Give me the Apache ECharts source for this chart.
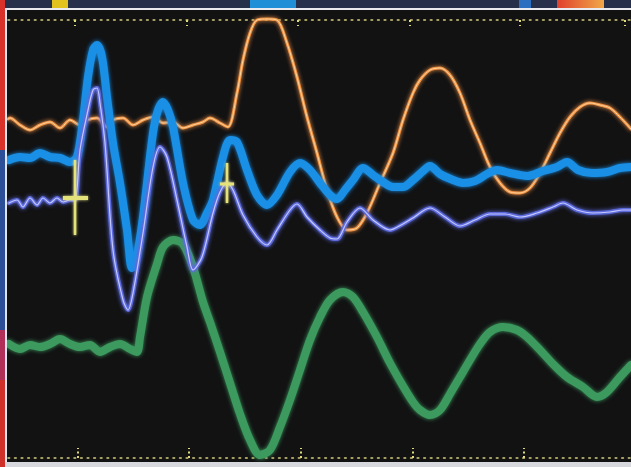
<!DOCTYPE html>
<html>
<head>
<meta charset="utf-8">
<script src="https://cdn.jsdelivr.net/npm/echarts@6/dist/echarts.min.js"></script>
<style>
html,body{margin:0;padding:0;background:#111214;}
#chart{width:631px;height:467px;}
</style>
</head>
<body>
<div id="chart"></div>
<script>
// time (x, arbitrary units) and amplitude (y, arbitrary units)
const orangeTrace = [
  [0.8,33.9],[1.0,34.0],[2.0,33.3],[3.0,32.8],[4.0,33.3],[5.0,33.6],[6.0,33.0],[7.0,33.8],[8.0,33.3],[8.7,33.8],
  [9.7,34.0],[10.7,33.1],[11.3,33.8],[12.3,34.0],[13.3,33.3],[14.3,33.8],[15.3,34.1],[16.3,33.5],[17.3,33.6],
  [18.3,33.0],[19.3,33.3],[20.3,33.6],[21.0,34.0],[22.0,33.5],[22.8,33.1],[23.7,36.5],[24.3,39.8],[25.0,42.5],
  [25.7,43.8],[26.7,43.9],[27.7,43.8],[28.7,41.5],[29.7,38.1],[30.7,34.1],[31.7,30.5],[32.7,26.8],[33.7,24.1],
  [34.7,22.8],[35.7,23.0],[36.7,24.5],[38.0,27.5],[39.3,30.5],[40.3,33.8],[41.3,36.5],[42.0,37.8],[43.0,38.8],
  [44.0,39.0],[45.0,38.3],[46.0,36.5],[47.0,33.8],[48.0,31.5],[49.0,29.1],[50.0,27.5],[51.0,26.6],[52.0,26.5],
  [53.0,27.0],[54.0,28.5],[55.0,30.5],[56.0,32.5],[57.0,34.1],[58.0,35.1],[59.0,35.5],[60.0,35.3],[61.0,35.0],
  [62.0,34.1],[63.1,32.9]
];
const blueTrace = [
  [0.9,29.8],[2.0,30.1],[3.0,30.0],[4.0,30.5],[5.0,30.1],[6.0,30.0],[7.0,29.6],[7.7,30.1],[8.3,33.8],[8.8,38.1],
  [9.3,40.8],[9.7,41.3],[10.2,40.1],[10.7,36.1],[11.3,31.5],[12.0,27.5],[12.7,22.8],[13.2,19.0],[13.7,20.3],
  [14.3,24.1],[15.3,32.5],[15.8,34.8],[16.3,35.6],[16.8,34.8],[17.3,33.1],[18.3,27.5],[19.3,23.8],[20.0,23.3],
  [20.7,24.5],[21.3,25.8],[22.3,30.1],[23.0,31.8],[23.7,31.6],[24.7,28.8],[25.7,26.3],[26.7,25.3],[27.7,26.3],
  [29.0,28.6],[30.0,29.5],[31.0,28.8],[32.0,27.5],[33.0,26.3],[33.7,25.9],[34.5,26.8],[35.3,27.8],[36.3,29.0],
  [37.3,28.3],[38.3,27.6],[39.3,27.1],[40.3,27.1],[41.3,27.8],[42.2,28.6],[43.0,29.2],[44.0,28.4],[45.3,27.8],
  [46.3,27.5],[47.5,27.7],[48.7,28.4],[49.7,28.8],[51.0,28.5],[52.7,28.2],[54.3,28.7],[55.7,29.1],[56.7,29.6],
  [57.8,28.8],[59.2,28.5],[60.7,28.6],[62.0,29.0],[63.1,29.1]
];
const violetTrace = [
  [0.9,25.5],[1.7,25.8],[2.3,25.1],[3.0,26.0],[3.7,25.3],[4.3,26.0],[5.0,25.5],[5.7,26.0],[6.3,25.6],[7.0,25.8],
  [7.5,25.8],[8.0,30.8],[8.8,34.8],[9.3,36.8],[9.7,37.0],[10.0,35.5],[10.5,31.5],[11.3,20.8],[12.3,15.8],
  [12.8,14.8],[13.3,16.5],[14.3,22.5],[15.3,29.1],[16.0,31.1],[16.7,30.1],[17.7,25.8],[18.7,21.1],[19.3,18.8],
  [20.2,20.1],[21.3,24.5],[22.0,26.6],[22.7,27.5],[23.3,26.8],[24.3,24.3],[25.7,22.1],[26.7,21.3],[27.7,22.8],
  [29.0,24.8],[29.7,25.4],[30.7,24.1],[32.0,22.8],[33.0,22.0],[33.7,21.9],[34.7,23.6],[36.0,25.0],[37.3,23.8],
  [39.0,22.8],[40.3,23.4],[41.3,24.0],[43.0,25.0],[44.5,24.1],[46.0,23.2],[47.5,23.8],[49.0,24.4],[50.5,24.4],
  [52.0,24.1],[53.7,24.5],[55.3,25.1],[56.3,25.5],[57.7,24.8],[59.3,24.5],[61.0,24.6],[62.3,24.8],[63.1,24.8]
];
const greenTrace = [
  [0.9,11.4],[2.0,10.9],[3.0,11.3],[4.0,11.1],[5.0,11.4],[6.0,11.9],[7.0,11.4],[8.0,11.1],[9.0,11.3],[10.0,10.6],
  [11.0,11.1],[12.0,11.4],[13.0,10.9],[13.7,10.6],[14.0,12.1],[14.7,16.1],[15.7,19.4],[16.3,21.1],[17.3,21.8],
  [18.3,21.4],[19.3,19.1],[20.3,15.6],[21.0,13.6],[22.0,10.6],[23.0,7.5],[24.0,4.4],[25.0,1.8],[26.0,0.3],
  [27.0,0.8],[28.0,3.1],[29.0,5.8],[30.0,8.8],[31.0,11.8],[32.0,14.1],[33.0,15.8],[34.3,16.6],[35.3,16.1],
  [36.3,14.6],[37.7,12.1],[39.0,9.5],[40.3,7.2],[41.3,5.6],[42.0,4.8],[43.0,4.3],[44.0,4.8],[45.0,6.4],[46.0,8.1],
  [47.0,9.8],[48.0,11.4],[49.0,12.6],[50.3,13.1],[51.7,12.8],[52.7,12.1],[54.0,10.8],[55.3,9.4],[56.7,8.1],
  [58.3,7.1],[59.7,6.1],[60.7,6.6],[62.0,8.1],[63.1,9.3]
];
// cursor crosses (segments)
const cursor1H = [[6.3,26.0],[8.8,26.0]];
const cursor1V = [[7.5,29.8],[7.5,22.3]];
const cursor2H = [[22.0,27.4],[23.4,27.4]];
const cursor2V = [[22.7,29.5],[22.7,25.5]];
const topTicks = [7.5,18.7,29.8,41.0,52.0,62.5];
const bottomTicks = [7.8,18.9,30.1,41.3,52.4];
const xMin = 0.8, xMax = 63.1, yMin = 0, yMax = 43.8;

const chart = echarts.init(document.getElementById('chart'), null, {renderer:'canvas'});
function trace(data, color, width, glow, z){
  return {type:'line', data:data, smooth:0.3, symbol:'none', clip:false, z:z,
    lineStyle:{color:color, width:width, shadowBlur:glow, shadowColor:color, cap:'round', join:'round'}};
}
function seg(data, width){
  return {type:'line', data:data, symbol:'none', clip:false, z:20,
    lineStyle:{color:'#e4e27a', width:width, shadowBlur:3, shadowColor:'#e4e27a'}};
}
const dotStyle = {color:'#d6cf7c', width:1.6, type:[1.6,5]};
chart.setOption({
  animation:false,
  backgroundColor:'#121213',
  grid:{left:8, right:0, top:20, bottom:9, containLabel:false},
  xAxis:[
    {type:'value', min:xMin, max:xMax, position:'bottom',
     axisLine:{show:true, onZero:false, lineStyle:dotStyle},
     axisTick:{show:true, inside:true, length:10, customValues:bottomTicks, lineStyle:{color:'#e2d978', width:2, type:[2,2.5]}},
     axisLabel:{show:false}, splitLine:{show:false}},
    {type:'value', min:xMin, max:xMax, position:'top',
     axisLine:{show:true, onZero:false, lineStyle:dotStyle},
     axisTick:{show:true, inside:true, length:6, customValues:topTicks, lineStyle:{color:'#e2d978', width:2, type:[2,3]}},
     axisLabel:{show:false}, splitLine:{show:false}}
  ],
  yAxis:{type:'value', min:yMin, max:yMax, show:false},
  series:[
    trace(greenTrace, '#3d9a5e', 8, 4, 2),
    trace(orangeTrace, '#ef9246', 3, 4, 3),
    trace(orangeTrace, '#ffd49a', 1, 0, 4),
    trace(blueTrace, '#1a8fe6', 8, 4, 5),
    trace(violetTrace, '#5d6bdc', 4, 4, 6),
    trace(violetTrace, '#c4c8ff', 1.2, 0, 7),
    seg(cursor1H, 4), seg(cursor1V, 2.5), seg(cursor2H, 3), seg(cursor2V, 2.5)
  ],
  graphic:[
    {type:'rect', shape:{x:0,y:0,width:631,height:8}, style:{fill:'#26304a'}, z:100},
    {type:'rect', shape:{x:52,y:0,width:16,height:8}, style:{fill:'#e2c21c'}, z:101},
    {type:'rect', shape:{x:250,y:0,width:46,height:8}, style:{fill:'#1f8fd8'}, z:101},
    {type:'rect', shape:{x:519,y:0,width:12,height:8}, style:{fill:'#2a6fc0'}, z:101},
    {type:'rect', shape:{x:557,y:0,width:47,height:8}, style:{fill:new echarts.graphic.LinearGradient(0,0,1,0,[{offset:0,color:'#e0402c'},{offset:1,color:'#f0a848'}])}, z:101},
    {type:'rect', shape:{x:0,y:0,width:5,height:150}, style:{fill:'#d8322a'}, z:100},
    {type:'rect', shape:{x:0,y:150,width:5,height:180}, style:{fill:'#2c4f98'}, z:100},
    {type:'rect', shape:{x:0,y:330,width:5,height:50}, style:{fill:'#b0305a'}, z:100},
    {type:'rect', shape:{x:0,y:380,width:5,height:87}, style:{fill:'#d0302a'}, z:100},
    {type:'rect', shape:{x:5,y:8,width:626,height:2}, style:{fill:'#e8eaf0'}, z:102},
    {type:'rect', shape:{x:5,y:8,width:2,height:459}, style:{fill:'#e0e4ee'}, z:102},
    {type:'rect', shape:{x:5,y:462,width:626,height:5}, style:{fill:'#d6d8de'}, z:102}
  ]
});
</script>
</body>
</html>
